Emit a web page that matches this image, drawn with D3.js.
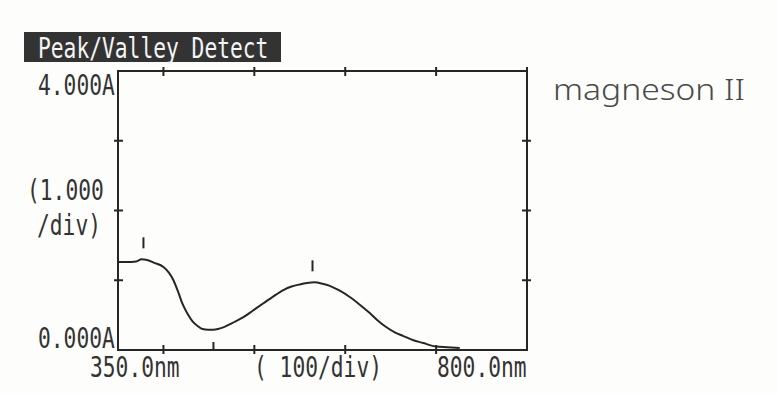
<!DOCTYPE html>
<html lang="en">
<head>
    <meta charset="UTF-8">
    <script src="https://d3js.org/d3.v7.min.js"></script>
    <style>
        body {
            margin: 0;
            background-color: #fdfdfb;
        }
        .mono {
            font-family: "DejaVu Sans Mono", monospace;
            fill: #333;
        }
    </style>
    <title>Peak/Valley Detect</title>
</head>
<body>
    <svg id="chart" width="778" height="393"></svg>
    <script>
        // spectrum (nm, absorbance)
        var wavelengths = [350, 360, 370, 376, 382, 390, 400, 406, 411, 416, 421, 427, 432, 438, 443, 449, 455, 460, 465, 476, 488, 499, 510, 521, 532, 541, 550, 558, 566, 575, 583, 594, 605, 616, 627, 636, 645, 655, 664, 675, 686, 693, 700, 712, 726];
        var absorbance  = [1.26, 1.26, 1.27, 1.30, 1.29, 1.25, 1.19, 1.11, 1.00, 0.84, 0.66, 0.51, 0.41, 0.34, 0.30, 0.29, 0.29, 0.30, 0.32, 0.39, 0.47, 0.57, 0.67, 0.77, 0.86, 0.91, 0.94, 0.96, 0.97, 0.95, 0.92, 0.85, 0.76, 0.65, 0.53, 0.42, 0.33, 0.25, 0.20, 0.14, 0.10, 0.07, 0.05, 0.04, 0.03];
        var peaks = [378, 564];
        var peakAbs = [1.30, 0.97];
        var valleys = [455];
        var xTicks = [400, 500, 600, 700, 800];
        var yTicks = [1, 2, 3];

        var svg = d3.select("#chart");
        var x = d3.scaleLinear().domain([350, 800]).range([118, 527]);
        var y = d3.scaleLinear().domain([0, 4]).range([350, 71]);
        var ink = "#262626";

        // title box
        svg.append("rect")
            .attr("x", 24).attr("y", 32).attr("width", 257).attr("height", 30)
            .attr("fill", "#333");
        addText("Peak/Valley Detect", 38, 58, "#f4f4f4");

        // frame
        var frame = svg.append("g").attr("stroke", ink).attr("stroke-width", 2).attr("fill", "none");
        frame.append("rect")
            .attr("x", x(350)).attr("y", y(4))
            .attr("width", x(800) - x(350)).attr("height", y(0) - y(4));

        // tick marks crossing the frame
        xTicks.forEach(function (t) {
            frame.append("line").attr("x1", x(t)).attr("x2", x(t)).attr("y1", y(4) - 4).attr("y2", y(4) + 5);
            if (t < 800) {
                frame.append("line").attr("x1", x(t)).attr("x2", x(t)).attr("y1", y(0) - 5).attr("y2", y(0) + 4);
            }
        });
        yTicks.forEach(function (t) {
            frame.append("line").attr("x1", x(350) - 4).attr("x2", x(350) + 5).attr("y1", y(t)).attr("y2", y(t));
            frame.append("line").attr("x1", x(800) - 5).attr("x2", x(800) + 4).attr("y1", y(t)).attr("y2", y(t));
        });

        // spectrum
        var pts = wavelengths.map(function (w, i) { return [w, absorbance[i]]; });
        var line = d3.line()
            .x(function (d) { return x(d[0]); })
            .y(function (d) { return y(d[1]); })
            .curve(d3.curveMonotoneX);
        svg.append("path")
            .datum(pts)
            .attr("d", line)
            .attr("fill", "none")
            .attr("stroke", ink)
            .attr("stroke-width", 2);

        // peak and valley markers
        peaks.forEach(function (p, i) {
            svg.append("line")
                .attr("x1", x(p)).attr("x2", x(p))
                .attr("y1", y(peakAbs[i]) - 22).attr("y2", y(peakAbs[i]) - 11)
                .attr("stroke", ink).attr("stroke-width", 2);
        });
        valleys.forEach(function (v) {
            svg.append("line")
                .attr("x1", x(v)).attr("x2", x(v))
                .attr("y1", y(0) - 8).attr("y2", y(0))
                .attr("stroke", ink).attr("stroke-width", 2);
        });

        // axis labels
        addText("4.000A", 38, 95);
        addText("(1.000", 27, 200);
        addText("/div)", 37, 235);
        addText("0.000A", 38, 348);
        addText("350.0nm", 90, 377);
        addText("( 100/div)", 254, 377);
        addText("800.0nm", 437, 377);

        // handwritten note
        svg.append("text")
            .attr("x", 553).attr("y", 100)
            .attr("font-family", "Noto Sans, sans-serif")
            .attr("font-weight", 300)
            .attr("font-size", 30)
            .attr("textLength", 192)
            .attr("lengthAdjust", "spacingAndGlyphs")
            .attr("fill", "#4a4a4a")
            .text("magneson II");

        function addText(s, tx, ty, color) {
            svg.append("text")
                .attr("class", "mono")
                .attr("x", tx).attr("y", ty)
                .attr("font-size", 28)
                .attr("textLength", s.length * 12.8)
                .attr("lengthAdjust", "spacingAndGlyphs")
                .style("fill", color || null)
                .text(s);
        }
    </script>
</body>
</html>
